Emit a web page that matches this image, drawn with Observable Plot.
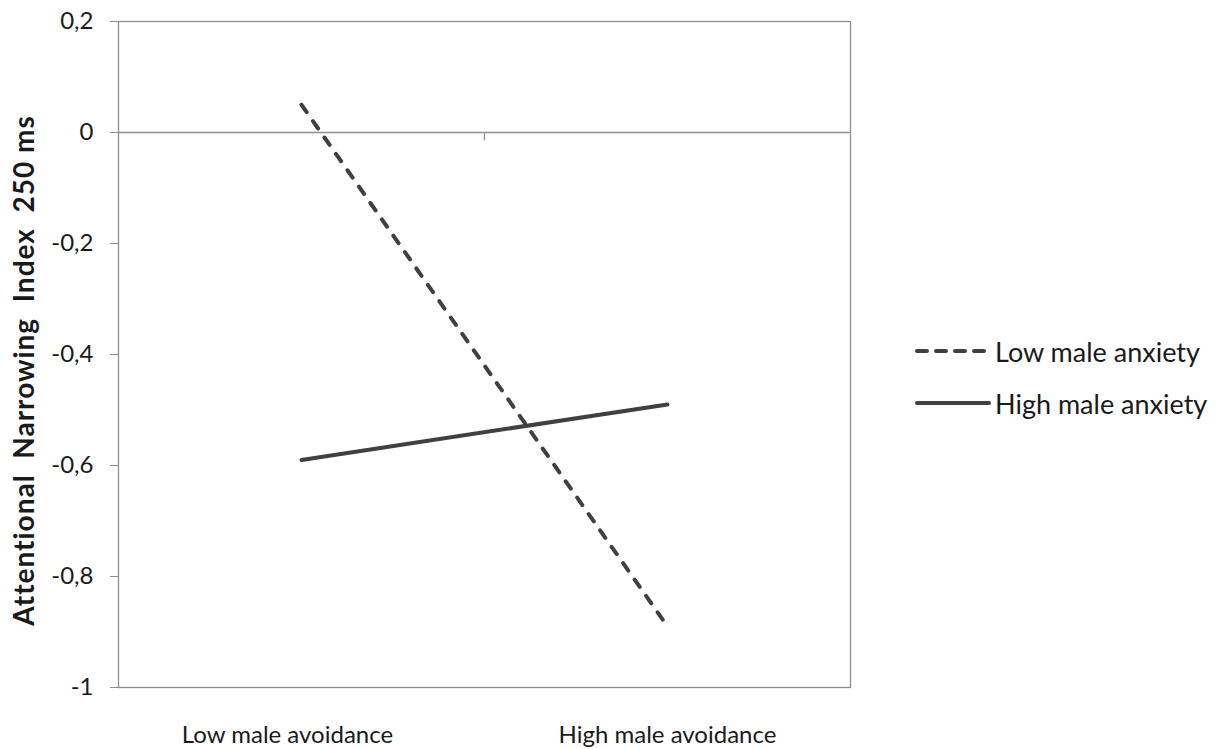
<!DOCTYPE html>
<html>
<head>
<meta charset="utf-8">
<script src="https://cdn.jsdelivr.net/npm/d3@7"></script>
<script src="https://cdn.jsdelivr.net/npm/@observablehq/plot@0.6"></script>
<style>
  html, body { margin: 0; padding: 0; background: #fff; }
  #wrap { position: relative; width: 1219px; height: 749px; font-family: Lato, "Open Sans", sans-serif; }
  #legend { position: absolute; left: 914px; top: 332px; font-size: 27px; color: #1a1a1a; }
  #legend .item { display: flex; align-items: center; height: 38px; margin-bottom: 14px; white-space: nowrap; }
  #legend svg { margin-right: 3px; }
</style>
</head>
<body>
<div id="wrap"><div id="chart"></div><div id="legend"></div></div>
<script>
const categories = ["Low male avoidance", "High male avoidance"];
const seriesNames = ["Low male anxiety", "High male anxiety"];
const lowAnxiety = [0.05, -0.89];
const highAnxiety = [-0.59, -0.49];
const yTicks = [0.2, 0, -0.2, -0.4, -0.6, -0.8, -1];

const data = [];
categories.forEach((c, i) => {
  data.push({series: seriesNames[0], xi: i + 0.5, y: lowAnxiety[i]});
  data.push({series: seriesNames[1], xi: i + 0.5, y: highAnxiety[i]});
});
const fmt = v => (v === 0 ? "0" : String(Math.round(v * 10) / 10).replace(".", ","));
const lineColor = "#404040";
const frameColor = "#8f8f8f";

const chart = Plot.plot({
  width: 1219,
  height: 749,
  marginLeft: 118,
  marginRight: 369,
  marginTop: 21,
  marginBottom: 62,
  style: {fontFamily: "Lato, 'Open Sans', sans-serif", fontSize: "20px", color: "#1a1a1a", background: "#fff"},
  x: {domain: [0, 2]},
  y: {domain: [-1, 0.2]},
  marks: [
    Plot.frame({stroke: frameColor, strokeWidth: 1.3}),
    Plot.ruleY([0], {stroke: frameColor, strokeWidth: 1.3}),
    Plot.ruleX([1], {y1: 0, y2: -0.015, stroke: frameColor, strokeWidth: 1.3}),
    Plot.axisY({ticks: yTicks, tickFormat: fmt, tickSize: 8, tickPadding: 17, stroke: frameColor,
      label: "Attentional  Narrowing  Index  250 ms", labelAnchor: "center", labelArrow: "none", labelOffset: 104}),
    Plot.axisX({ticks: [0.5, 1.5], tickFormat: d => categories[Math.floor(d)], tickSize: 0, tickPadding: 38, label: null}),
    Plot.line(data.filter(d => d.series === seriesNames[0]), {x: "xi", y: "y", stroke: lineColor, strokeWidth: 4,
      strokeDasharray: "9,11", strokeLinecap: "round"}),
    Plot.line(data.filter(d => d.series === seriesNames[1]), {x: "xi", y: "y", stroke: lineColor, strokeWidth: 4,
      strokeLinecap: "round"})
  ]
});
document.getElementById("chart").appendChild(chart);
chart.querySelectorAll("text").forEach(t => {
  const s = t.textContent;
  if (categories.includes(s)) {
    t.style.fontSize = "24px";
    if (s === categories[0]) t.setAttribute("dx", "-14");
  } else if (s.startsWith("Attentional")) {
    t.style.fontWeight = "bold";
    t.style.fontSize = "28px";
    t.style.letterSpacing = "1px";
    t.style.whiteSpace = "pre";
    t.setAttribute("dx", "-16");
  } else {
    t.style.fontSize = "24px";
  }
});

const legend = document.getElementById("legend");
seriesNames.forEach((s, i) => {
  const item = document.createElement("div");
  item.className = "item";
  item.innerHTML = `<svg width="78" height="10"><line x1="3" x2="75" y1="5" y2="5" stroke="${lineColor}" stroke-width="4" stroke-linecap="round" ${i === 0 ? 'stroke-dasharray="10,9"' : ''}/></svg><span>${s}</span>`;
  legend.appendChild(item);
});
</script>
</body>
</html>
